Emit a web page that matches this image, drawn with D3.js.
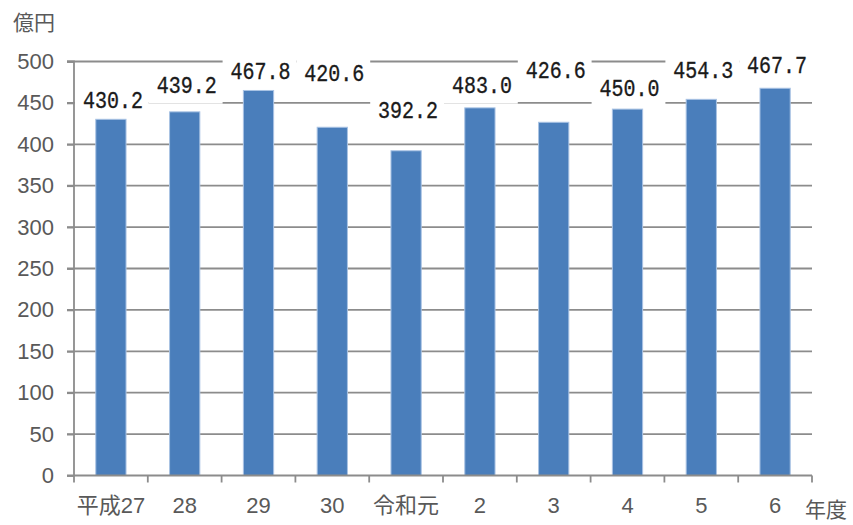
<!DOCTYPE html>
<html><head><meta charset="utf-8">
<script src="https://cdn.jsdelivr.net/npm/d3@7"></script>
<style>
html,body{margin:0;padding:0;background:#fff;}
svg{display:block;}
</style></head>
<body>
<svg id="chart" width="853" height="525"></svg>
<script>
// ---- data ----
const categories = ["平成27", "28", "29", "30", "令和元", "2", "3", "4", "5", "6"];
const barValues = [430.2, 439.2, 465.0, 420.6, 392.2, 444.0, 426.6, 442.5, 454.3, 467.7];
const labelTexts = ["430.2", "439.2", "467.8", "420.6", "392.2", "483.0", "426.6", "450.0", "454.3", "467.7"];
const labelLevels = [451.4, 469.6, 485.7, 483.1, 439.4, 469.6, 486.7, 465.0, 487.7, 493.4];
const yTicks = [0, 50, 100, 150, 200, 250, 300, 350, 400, 450, 500];
const yUnit = "億円";
const xUnit = "年度";

// ---- layout ----
const mLeft = 74, mRight = 812, mTop = 61.5, mBottom = 475.5;
const svg = d3.select("#chart");
const x = d3.scaleBand().domain(categories).range([mLeft, mRight]).paddingInner(0).paddingOuter(0);
const y = d3.scaleLinear().domain([0, 500]).range([mBottom, mTop]);
const gridColor = "#8c8c8c";
const numFont = "'Liberation Sans', 'Noto Sans CJK JP', sans-serif";

// gridlines
svg.append("g").selectAll("line").data(yTicks.filter(d => d > 0)).join("line")
  .attr("x1", mLeft - 7).attr("x2", mRight)
  .attr("y1", d => y(d)).attr("y2", d => y(d))
  .attr("stroke", gridColor).attr("stroke-width", 1.8);

// label background boxes (white, hide gridlines)
const boxH = 34;
svg.append("g").selectAll("rect").data(categories).join("rect")
  .attr("x", d => x(d) + 1)
  .attr("width", x.bandwidth())
  .attr("y", (d, i) => y(labelLevels[i]) - boxH / 2)
  .attr("height", boxH)
  .attr("fill", "#fff");

// bars
const bw = x.bandwidth() * 0.41;
svg.append("g").selectAll("rect").data(categories).join("rect")
  .attr("x", d => x(d) + (x.bandwidth() - bw) / 2)
  .attr("width", bw)
  .attr("y", (d, i) => y(barValues[i]))
  .attr("height", (d, i) => y(0) - y(barValues[i]))
  .attr("fill", "#4a7ebb")
  .attr("stroke", "#a9c3e4").attr("stroke-width", 1);

// y axis
const yAxis = d3.axisLeft(y).tickValues(yTicks).tickSize(7).tickPadding(13).tickFormat(d3.format("d"));
const gy = svg.append("g").attr("transform", `translate(${mLeft},0)`).call(yAxis);
gy.select(".domain").attr("stroke", gridColor).attr("stroke-width", 1.8).attr("d", `M-7,${mTop}H0V${mBottom}`);
gy.selectAll(".tick line").attr("stroke", gridColor).attr("stroke-width", 1.8);
gy.selectAll(".tick text").attr("fill", "#595959").style("font-family", numFont).style("font-size", "22px");

// x axis
const xAxis = d3.axisBottom(x).tickSize(0).tickPadding(22);
const gx = svg.append("g").attr("transform", `translate(0,${mBottom})`).call(xAxis);
gx.select(".domain").attr("stroke", gridColor).attr("stroke-width", 1.8).attr("d", `M${mLeft - 7},0H${mRight}`);
gx.selectAll(".tick text").attr("fill", "#595959").style("font-family", numFont).style("font-size", "22px");
// boundary ticks
const bounds = categories.map(c => x(c)).concat([mRight]);
svg.append("g").selectAll("line").data(bounds).join("line")
  .attr("x1", d => d).attr("x2", d => d)
  .attr("y1", mBottom).attr("y2", mBottom + 7)
  .attr("stroke", gridColor).attr("stroke-width", 1.8);

// data labels
svg.append("g").selectAll("text").data(categories).join("text")
  .attr("transform", (d, i) => `translate(${x(d) + x.bandwidth() / 2 + 2},${y(labelLevels[i])}) scale(1,1.2)`)
  .attr("text-anchor", "middle")
  .attr("dominant-baseline", "central")
  .style("font-family", "'Liberation Mono', 'DejaVu Sans Mono', monospace")
  .style("font-size", "20px")
  .attr("fill", "#1a1a1a")
  .attr("stroke", "#1a1a1a").attr("stroke-width", 0.3)
  .text((d, i) => labelTexts[i]);

// unit labels
svg.append("text").attr("x", 13).attr("y", 30)
  .style("font-family", "'Noto Sans CJK JP', sans-serif").style("font-size", "21px")
  .attr("fill", "#595959").text(yUnit);
svg.append("text").attr("x", 805).attr("y", 517)
  .style("font-family", "'Noto Sans CJK JP', sans-serif").style("font-size", "21px")
  .attr("fill", "#595959").text(xUnit);
</script>
</body></html>
